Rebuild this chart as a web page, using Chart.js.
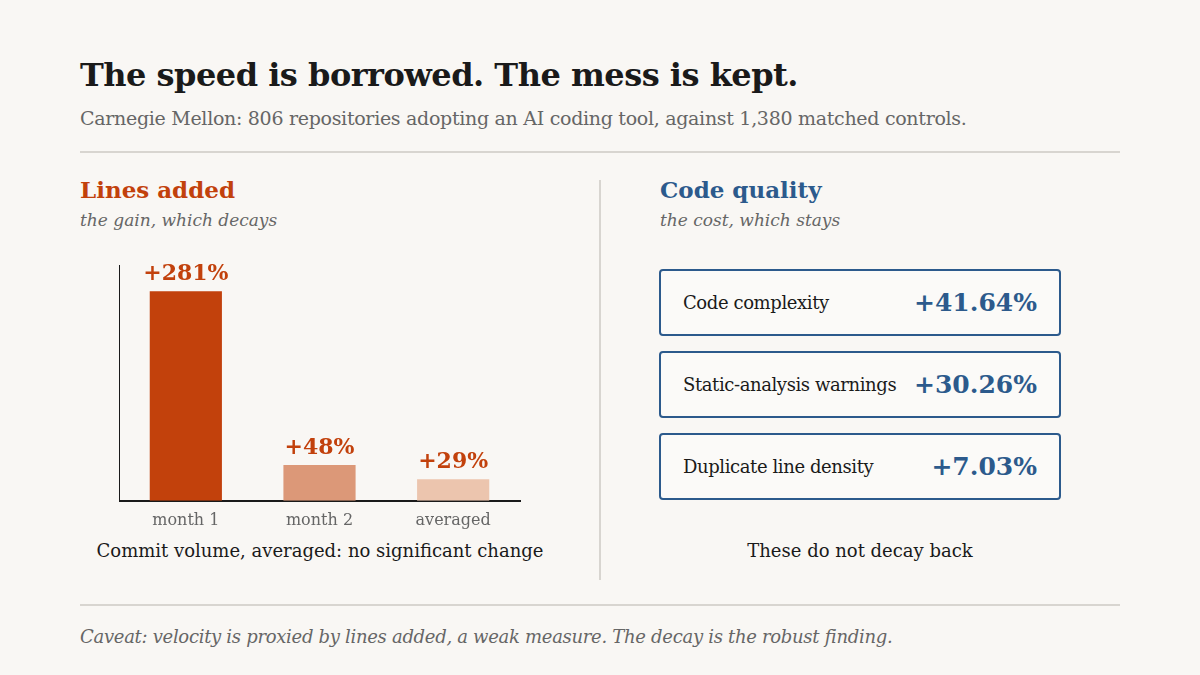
<!DOCTYPE html>
<html lang="en">
<head>
<meta charset="UTF-8">
<title>The speed is borrowed</title>
<script src="https://cdn.jsdelivr.net/npm/chart.js"></script>
<style>
  body { margin: 0; background: #f9f7f4; font-family: "DejaVu Serif", Georgia, serif; color: #1a1a1a; }
  .page { position: relative; width: 1200px; height: 675px; }
  h1 { position: absolute; left: 80px; top: 56px; margin: 0; font-size: 32px; font-weight: bold; letter-spacing: -0.5px; }
  .sub { position: absolute; left: 80px; top: 107px; font-size: 19px; color: #666; letter-spacing: -0.3px; }
  .rule { position: absolute; left: 80px; width: 1040px; height: 2px; background: #d8d5d0; }
  .vrule { position: absolute; left: 599px; top: 180px; width: 2px; height: 400px; background: #d8d5d0; }
  .ph { position: absolute; top: 176px; margin: 0; font-size: 23px; font-weight: bold; }
  .pi { position: absolute; top: 210px; font-size: 17px; font-style: italic; color: #666; }
  .chart-box { position: absolute; left: 119px; top: 252px; width: 411px; height: 288px; }
  .note { position: absolute; top: 540px; font-size: 18px; text-align: center; }
  .qbox { position: absolute; left: 659px; width: 402px; height: 67px; border: 2px solid #2c5a8c; border-radius: 4px; background: #fbfaf8; box-sizing: border-box; display: flex; align-items: center; justify-content: space-between; padding: 0 22px; }
  .qbox span.l { font-size: 18px; letter-spacing: -0.4px; white-space: nowrap; }
  .qbox span.v { font-size: 25px; font-weight: bold; color: #2c5a8c; white-space: nowrap; }
  .cav { position: absolute; left: 80px; top: 626px; font-size: 18px; font-style: italic; color: #666; letter-spacing: -0.3px; }
</style>
</head>
<body>
<div class="page">
  <h1>The speed is borrowed. The mess is kept.</h1>
  <div class="sub">Carnegie Mellon: 806 repositories adopting an AI coding tool, against 1,380 matched controls.</div>
  <div class="rule" style="top:151px"></div>
  <div class="vrule"></div>

  <div class="ph" style="left:80px;color:#c2410c">Lines added</div>
  <div class="pi" style="left:80px">the gain, which decays</div>
  <div class="chart-box"><canvas id="barChart"></canvas></div>
  <div class="note" style="left:80px;width:480px">Commit volume, averaged: no significant change</div>

  <div class="ph" style="left:660px;color:#2c5a8c">Code quality</div>
  <div class="pi" style="left:660px">the cost, which stays</div>
  <div id="quality"></div>
  <div class="note" style="left:660px;width:400px">These do not decay back</div>

  <div class="rule" style="top:604px"></div>
  <div class="cav">Caveat: velocity is proxied by lines added, a weak measure. The decay is the robust finding.</div>
</div>
<script>
const periods = ['month 1', 'month 2', 'averaged'];
const linesAdded = [281, 48, 29];
const barColors = ['#c2410c', '#dc9878', '#ecc5ae'];

const qualityLabels = ['Code complexity', 'Static-analysis warnings', 'Duplicate line density'];
const qualityValues = ['+41.64%', '+30.26%', '+7.03%'];

// quality boxes
const q = document.getElementById('quality');
qualityLabels.forEach((label, i) => {
  const div = document.createElement('div');
  div.className = 'qbox';
  div.style.top = (269 + i * 82) + 'px';
  div.innerHTML = `<span class="l">${label}</span><span class="v">${qualityValues[i]}</span>`;
  q.appendChild(div);
});

const valueLabels = {
  id: 'valueLabels',
  afterDatasetsDraw(chart) {
    const ctx = chart.ctx;
    ctx.save();
    ctx.font = 'bold 22px "DejaVu Serif", serif';
    ctx.fillStyle = '#c2410c';
    ctx.textAlign = 'center';
    ctx.textBaseline = 'bottom';
    chart.getDatasetMeta(0).data.forEach((bar, i) => {
      ctx.fillText('+' + linesAdded[i] + '%', bar.x, bar.y - 6);
    });
    ctx.restore();
  }
};

new Chart(document.getElementById('barChart'), {
  type: 'bar',
  data: {
    labels: periods,
    datasets: [{ data: linesAdded, backgroundColor: barColors, barPercentage: 0.54, categoryPercentage: 1 }]
  },
  options: {
    responsive: true,
    maintainAspectRatio: false,
    animation: false,
    layout: { padding: { left: 0, right: 10, top: 14 } },
    plugins: { legend: { display: false }, tooltip: { enabled: false } },
    scales: {
      x: {
        grid: { display: false, drawTicks: false },
        border: { color: '#1a1a1a', width: 2 },
        ticks: { color: '#666', font: { family: '"DejaVu Serif", serif', size: 16 }, padding: 10 }
      },
      y: {
        min: 0, max: 315,
        grid: { display: false, drawTicks: false },
        border: { color: '#1a1a1a', width: 2 },
        ticks: { display: false }
      }
    }
  },
  plugins: [valueLabels]
});
</script>
</body>
</html>
